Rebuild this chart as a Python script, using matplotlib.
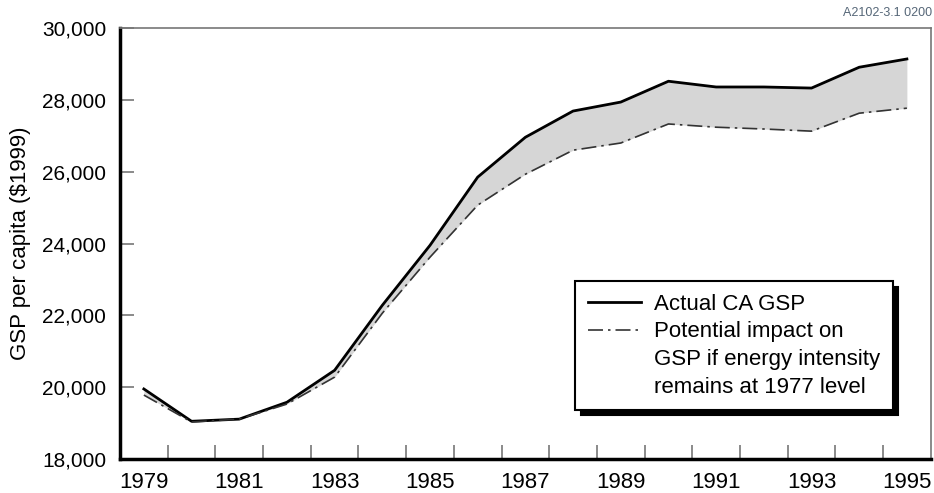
import numpy as np
import matplotlib
matplotlib.use('Agg')
import matplotlib.pyplot as plt
from matplotlib.lines import Line2D

plt.rcParams['font.family'] = ['Liberation Sans', 'DejaVu Sans']

# Data
years = np.arange(1979, 1996)
actual_gsp = [19950, 19050, 19110, 19580, 20470, 22280, 23950, 25850, 26960,
              27690, 27940, 28520, 28360, 28360, 28330, 28910, 29140]
potential_gsp = [19780, 19030, 19110, 19530, 20280, 22060, 23620, 25070, 25930,
                 26600, 26800, 27330, 27240, 27190, 27130, 27630, 27770]
year_labels = [str(y) for y in range(1979, 1996, 2)]
y_ticks = list(range(18000, 30001, 2000))

fig = plt.figure(figsize=(9.34, 4.93), dpi=100)
ax = fig.add_axes([0.1285, 0.069, 0.868, 0.874])

ax.fill_between(years, potential_gsp, actual_gsp, color='#d6d6d6', lw=0)
ax.plot(years, actual_gsp, color='black', lw=2.0, solid_joinstyle='round')
ax.plot(years, potential_gsp, color='#333333', lw=1.2,
        dashes=(9, 3, 1.5, 3))

ax.set_xlim(1978.5, 1995.5)
ax.set_ylim(18000, 30000)

# tick marks between years, labels on odd years
ax.set_xticks(np.arange(1979.5, 1995.5, 1))
ax.set_xticklabels([])
ax.tick_params(axis='x', direction='in', length=10, width=1.2, color='#777777')
for lab in year_labels:
    ax.text(int(lab), 17650, lab, ha='center', va='top', fontsize=16)

ax.set_yticks(y_ticks)
ax.set_yticklabels([f'{v:,}' for v in y_ticks], fontsize=15)
ax.tick_params(axis='y', direction='in', length=10, width=1.2, color='#777777', pad=10)
ax.set_ylabel('GSP per capita ($1999)', fontsize=16, labelpad=8)

ax.spines['left'].set_linewidth(2.5)
ax.spines['bottom'].set_linewidth(2.5)
ax.spines['top'].set_linewidth(1.2)
ax.spines['top'].set_color('#777777')
ax.spines['right'].set_linewidth(1.2)
ax.spines['right'].set_color('#777777')

handles = [
    Line2D([], [], color='black', lw=2.0),
    Line2D([], [], color='#333333', lw=1.2, dashes=(9, 3, 1.5, 3)),
    Line2D([], [], color='none'),
    Line2D([], [], color='none'),
]
labels = ['Actual CA GSP', 'Potential impact on',
          'GSP if energy intensity', 'remains at 1977 level']
leg = ax.legend(handles, labels, loc='lower right', bbox_to_anchor=(0.953, 0.114),
                borderaxespad=0, fontsize=16, frameon=True, fancybox=False,
                handlelength=2.4, handletextpad=0.6, labelspacing=0.3,
                borderpad=0.55,
                shadow={'color': 'black', 'alpha': 1, 'ox': 4, 'oy': -4})
leg.get_frame().set_edgecolor('black')
leg.get_frame().set_linewidth(1.5)

fig.text(0.998, 1 - 13 / 493, 'A2102-3.1 0200', fontsize=9, color='#556677',
         ha='right', va='center')

plt.savefig('out.png', dpi=100)
